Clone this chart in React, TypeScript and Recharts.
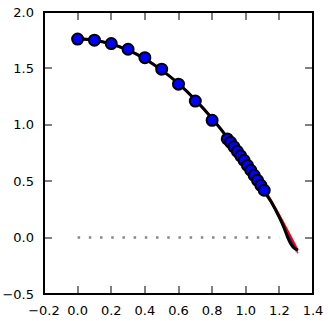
import React from 'react'
import { ComposedChart, Line, XAxis, YAxis } from 'recharts'

// marker points (blue circles)
const markerX = [0, 0.1, 0.2, 0.3, 0.4, 0.5, 0.6, 0.7, 0.8, 0.89, 0.91, 0.93, 0.95, 0.97, 0.99, 1.01, 1.03, 1.05, 1.07, 1.09, 1.11]
const markerY = [1.76, 1.75, 1.72, 1.67, 1.595, 1.493, 1.36, 1.21, 1.04, 0.875, 0.845, 0.805, 0.765, 0.725, 0.685, 0.64, 0.597, 0.552, 0.508, 0.463, 0.42]

// black fit curve
const blackX = [0, 0.1, 0.2, 0.3, 0.4, 0.5, 0.6, 0.7, 0.8, 0.9, 1.0, 1.1, 1.15, 1.2, 1.23, 1.25, 1.27, 1.29, 1.31]
const blackY = [1.76, 1.75, 1.716, 1.661, 1.584, 1.485, 1.364, 1.221, 1.056, 0.869, 0.66, 0.43, 0.32, 0.18, 0.08, 0.0, -0.06, -0.095, -0.11]

// red curve
const redX = [0, 0.1, 0.2, 0.3, 0.4, 0.5, 0.6, 0.7, 0.8, 0.9, 1.0, 1.11, 1.31]
const redY = [1.77, 1.755, 1.72, 1.665, 1.588, 1.488, 1.366, 1.222, 1.056, 0.869, 0.66, 0.43, -0.115]

// other thin lines near the end
const blueX = [1.11, 1.305]
const blueY = [0.43, -0.11]
const purpleX = [1.11, 1.305]
const purpleY = [0.43, -0.12]
const yellowX = [1.11, 1.3]
const yellowY = [0.43, -0.125]
const magentaX = [1.11, 1.31]
const magentaY = [0.43, -0.14]

// zero reference (dotted)
const zeroX = [0, 1.2]
const zeroY = [0, 0]

const xTicks = [-0.2, 0, 0.2, 0.4, 0.6, 0.8, 1.0, 1.2, 1.4]
const yTicks = [-0.5, 0, 0.5, 1.0, 1.5, 2.0]
const xDomain = [-0.2, 1.4]
const yDomain = [-0.5, 2.0]

const pts = (xs: number[], ys: number[]) => xs.map((x, i) => ({ x, y: ys[i] }))

const fmt = (v: number) => (v < 0 ? '\u2212' + Math.abs(v).toFixed(1) : v.toFixed(1))

const W = 328
const H = 321
const XH = 27
const YW = 44
const MARGIN = { top: 12, right: 15, bottom: 0, left: 0 }
const PL = MARGIN.left + YW
const PT = MARGIN.top
const PW = W - MARGIN.left - MARGIN.right - YW
const PH = H - MARGIN.top - MARGIN.bottom - XH
const M = 20
const TICK = 8

const BottomTick = (p: any) => (
  <text x={p.x} y={p.y - M + 12} dy="0.71em" textAnchor="middle" fontFamily="DejaVu Sans" fontSize={13} fill="#000">
    {fmt(p.payload.value)}
  </text>
)

const LeftTick = (p: any) => (
  <text x={p.x + M - 10} y={p.y} dy="0.355em" textAnchor="end" fontFamily="DejaVu Sans" fontSize={13} fill="#000">
    {fmt(p.payload.value)}
  </text>
)

// frame and inward ticks drawn as filled rects over the plot area
const Frame = () => {
  const sx = (v: number) => PL + ((v - xDomain[0]) / (xDomain[1] - xDomain[0])) * PW
  const sy = (v: number) => PT + ((yDomain[1] - v) / (yDomain[1] - yDomain[0])) * PH
  return (
    <svg width={W} height={H} style={{ position: 'absolute', left: 0, top: 0, zIndex: 5, pointerEvents: 'none' }}>
      {xTicks.map((v) => (
        <g key={'x' + v}>
          <rect x={Math.round(sx(v)) - 0.5} y={PT + PH - TICK} width={1} height={TICK} fill="#000" />
          <rect x={Math.round(sx(v)) - 0.5} y={PT} width={1} height={TICK} fill="#000" />
        </g>
      ))}
      {yTicks.map((v) => (
        <g key={'y' + v}>
          <rect x={PL} y={Math.round(sy(v)) - 0.5} width={TICK} height={1} fill="#000" />
          <rect x={PL + PW - TICK} y={Math.round(sy(v)) - 0.5} width={TICK} height={1} fill="#000" />
        </g>
      ))}
      <rect x={PL - 1} y={PT - 1} width={PW + 2} height={2} fill="#000" />
      <rect x={PL - 1} y={PT + PH - 1} width={PW + 2} height={2} fill="#000" />
      <rect x={PL - 1} y={PT - 1} width={2} height={PH + 2} fill="#000" />
      <rect x={PL + PW - 1} y={PT - 1} width={2} height={PH + 2} fill="#000" />
    </svg>
  )
}

export default function App() {
  return (
    <div style={{ position: 'absolute', left: 0, top: 0, width: W, height: H, background: '#fff' }}>
      <ComposedChart width={W} height={H} margin={MARGIN}>
        <XAxis dataKey="x" type="number" domain={xDomain} ticks={xTicks} height={XH} tickSize={0} tickMargin={M}
          tick={BottomTick} interval={0} axisLine={false} tickLine={false} />
        <YAxis dataKey="y" type="number" domain={yDomain} ticks={yTicks} width={YW} tickSize={0} tickMargin={M}
          tick={LeftTick} interval={0} axisLine={false} tickLine={false} />

        <Line data={pts(zeroX, zeroY)} dataKey="y" stroke="#888" strokeWidth={2.5} strokeDasharray="2.5 8.7"
          dot={false} activeDot={false} isAnimationActive={false} />
        <Line data={pts(markerX, markerY)} dataKey="y" stroke="none" strokeWidth={0}
          dot={{ r: 5.5, fill: '#0000ff', stroke: '#000', strokeWidth: 2 }} activeDot={false} isAnimationActive={false} />
        <Line data={pts(magentaX, magentaY)} dataKey="y" stroke="#ff00ff" strokeWidth={1.5} dot={false} activeDot={false} isAnimationActive={false} />
        <Line data={pts(yellowX, yellowY)} dataKey="y" stroke="#bfbf00" strokeWidth={1.5} dot={false} activeDot={false} isAnimationActive={false} />
        <Line data={pts(purpleX, purpleY)} dataKey="y" stroke="#8000c0" strokeWidth={1.5} dot={false} activeDot={false} isAnimationActive={false} />
        <Line data={pts(blueX, blueY)} dataKey="y" stroke="#0000ff" strokeWidth={1.5} dot={false} activeDot={false} isAnimationActive={false} />
        <Line data={pts(redX, redY)} dataKey="y" type="monotone" stroke="#ff0000" strokeWidth={2} dot={false} activeDot={false} isAnimationActive={false} />
        <Line data={pts(blackX, blackY)} dataKey="y" type="monotone" stroke="#000" strokeWidth={3} dot={false} activeDot={false} isAnimationActive={false} />
      </ComposedChart>
      <Frame />
    </div>
  )
}
